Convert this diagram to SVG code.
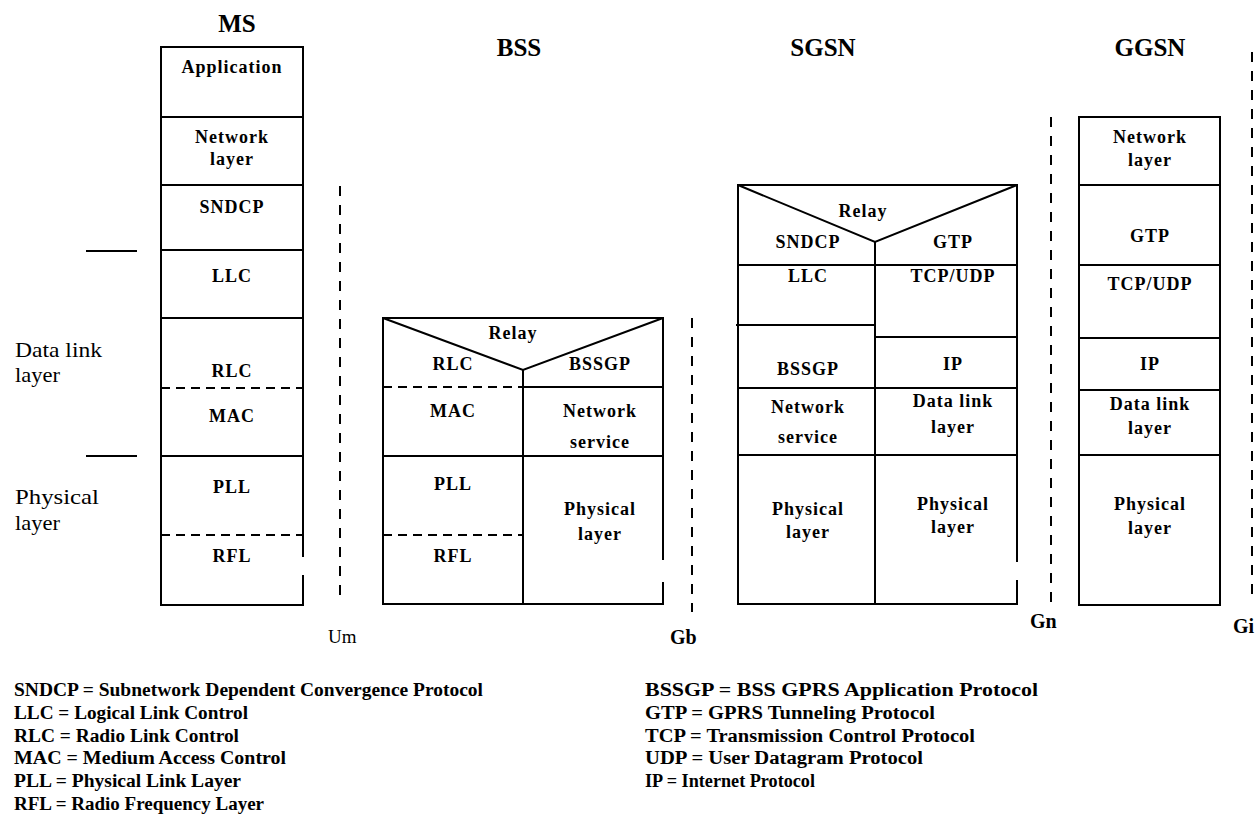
<svg xmlns="http://www.w3.org/2000/svg" width="1260" height="836" viewBox="0 0 1260 836">
<style>
  .ln { fill: none; stroke: #000; stroke-width: 2; }
  .dl { fill: none; stroke: #000; stroke-width: 2; stroke-dasharray: 9 6; }
  .if { fill: none; stroke: #000; stroke-width: 2; stroke-dasharray: 10 9; }
  .lbl { font-family: "Liberation Serif", "Times New Roman", serif; font-weight: bold; font-size: 18px; letter-spacing: 1px; text-anchor: middle; fill: #000; }
  .ttl { font-family: "Liberation Serif", "Times New Roman", serif; font-weight: bold; font-size: 25px; text-anchor: middle; fill: #000; }
  .side { font-family: "Liberation Serif", "Times New Roman", serif; font-size: 21px; fill: #000; }
  .ifl { font-family: "Liberation Serif", "Times New Roman", serif; font-weight: bold; font-size: 20px; fill: #000; }
  .ifr { font-family: "Liberation Serif", "Times New Roman", serif; font-size: 19px; fill: #000; }
  .leg { font-family: "Liberation Serif", "Times New Roman", serif; font-weight: bold; font-size: 18px; fill: #000; }
</style>
<rect x="0" y="0" width="1260" height="836" fill="#fff"/>

<!-- Titles -->
<g id="titles">
  <text class="ttl" x="237" y="32">MS</text>
  <text class="ttl" x="519" y="56">BSS</text>
  <text class="ttl" x="823" y="56">SGSN</text>
  <text class="ttl" x="1150" y="56">GGSN</text>
</g>

<!-- Side layer labels -->
<g id="side-labels">
  <line class="ln" x1="86" y1="251" x2="137" y2="251"/>
  <line class="ln" x1="86" y1="456" x2="137" y2="456"/>
  <text class="side" x="15" y="357" textLength="87" lengthAdjust="spacingAndGlyphs">Data link</text>
  <text class="side" x="15" y="382" textLength="45" lengthAdjust="spacingAndGlyphs">layer</text>
  <text class="side" x="15" y="504" textLength="84" lengthAdjust="spacingAndGlyphs">Physical</text>
  <text class="side" x="15" y="530" textLength="45" lengthAdjust="spacingAndGlyphs">layer</text>
</g>

<!-- MS stack -->
<g id="ms">
  <path class="ln" d="M303,557 V47 H161 V605 H303 V575"/>
  <line class="ln" x1="161" y1="117" x2="303" y2="117"/>
  <line class="ln" x1="161" y1="185" x2="303" y2="185"/>
  <line class="ln" x1="161" y1="250" x2="303" y2="250"/>
  <line class="ln" x1="161" y1="318" x2="303" y2="318"/>
  <line class="dl" x1="161" y1="388" x2="303" y2="388"/>
  <line class="ln" x1="161" y1="456" x2="303" y2="456"/>
  <line class="dl" x1="161" y1="535" x2="303" y2="535"/>
  <text class="lbl" x="232" y="73">Application</text>
  <text class="lbl" x="232" y="143">Network</text>
  <text class="lbl" x="232" y="165">layer</text>
  <text class="lbl" x="232" y="213">SNDCP</text>
  <text class="lbl" x="232" y="282">LLC</text>
  <text class="lbl" x="232" y="377">RLC</text>
  <text class="lbl" x="232" y="422">MAC</text>
  <text class="lbl" x="232" y="493">PLL</text>
  <text class="lbl" x="232" y="562">RFL</text>
</g>

<!-- BSS stack -->
<g id="bss">
  <path class="ln" d="M663,560 V318 H383 V604 H663 V582"/>
  <polyline class="ln" points="383,318 523,370 663,318"/>
  <line class="ln" x1="523" y1="370" x2="523" y2="604"/>
  <line class="dl" x1="383" y1="387" x2="523" y2="387"/>
  <line class="ln" x1="523" y1="387" x2="663" y2="387"/>
  <line class="ln" x1="383" y1="456" x2="663" y2="456"/>
  <line class="dl" x1="383" y1="535" x2="523" y2="535"/>
  <text class="lbl" x="513" y="339">Relay</text>
  <text class="lbl" x="453" y="370">RLC</text>
  <text class="lbl" x="600" y="370">BSSGP</text>
  <text class="lbl" x="453" y="417">MAC</text>
  <text class="lbl" x="600" y="417">Network</text>
  <text class="lbl" x="600" y="448">service</text>
  <text class="lbl" x="453" y="490">PLL</text>
  <text class="lbl" x="600" y="515">Physical</text>
  <text class="lbl" x="600" y="540">layer</text>
  <text class="lbl" x="453" y="562">RFL</text>
</g>

<!-- SGSN stack -->
<g id="sgsn">
  <path class="ln" d="M1017,562 V185 H738 V604 H1017 V580"/>
  <polyline class="ln" points="738,185 875,242 1017,185"/>
  <line class="ln" x1="875" y1="242" x2="875" y2="604"/>
  <line class="ln" x1="738" y1="265" x2="1017" y2="265"/>
  <line class="ln" x1="736" y1="325" x2="875" y2="325"/>
  <line class="ln" x1="875" y1="337" x2="1017" y2="337"/>
  <line class="ln" x1="738" y1="388" x2="1017" y2="388"/>
  <line class="ln" x1="738" y1="455" x2="1017" y2="455"/>
  <text class="lbl" x="863" y="217">Relay</text>
  <text class="lbl" x="808" y="248">SNDCP</text>
  <text class="lbl" x="953" y="248">GTP</text>
  <text class="lbl" x="808" y="282">LLC</text>
  <text class="lbl" x="953" y="282">TCP/UDP</text>
  <text class="lbl" x="808" y="375">BSSGP</text>
  <text class="lbl" x="953" y="370">IP</text>
  <text class="lbl" x="808" y="413">Network</text>
  <text class="lbl" x="808" y="443">service</text>
  <text class="lbl" x="953" y="407">Data link</text>
  <text class="lbl" x="953" y="433">layer</text>
  <text class="lbl" x="808" y="515">Physical</text>
  <text class="lbl" x="808" y="538">layer</text>
  <text class="lbl" x="953" y="510">Physical</text>
  <text class="lbl" x="953" y="533">layer</text>
</g>

<!-- GGSN stack -->
<g id="ggsn">
  <rect class="ln" x="1079" y="117" width="141" height="488"/>
  <line class="ln" x1="1079" y1="185" x2="1220" y2="185"/>
  <line class="ln" x1="1079" y1="265" x2="1220" y2="265"/>
  <line class="ln" x1="1079" y1="338" x2="1220" y2="338"/>
  <line class="ln" x1="1079" y1="390" x2="1220" y2="390"/>
  <line class="ln" x1="1079" y1="455" x2="1220" y2="455"/>
  <text class="lbl" x="1150" y="143">Network</text>
  <text class="lbl" x="1150" y="166">layer</text>
  <text class="lbl" x="1150" y="242">GTP</text>
  <text class="lbl" x="1150" y="290">TCP/UDP</text>
  <text class="lbl" x="1150" y="370">IP</text>
  <text class="lbl" x="1150" y="410">Data link</text>
  <text class="lbl" x="1150" y="434">layer</text>
  <text class="lbl" x="1150" y="510">Physical</text>
  <text class="lbl" x="1150" y="534">layer</text>
</g>

<!-- Interfaces (dashed reference lines) -->
<g id="connectors">
  <line class="if" x1="340" y1="186" x2="340" y2="597"/>
  <line class="if" x1="692" y1="318" x2="692" y2="612"/>
  <line class="if" x1="1051" y1="117" x2="1051" y2="603"/>
  <line class="if" x1="1252" y1="52" x2="1252" y2="600"/>
</g>
<g id="interface-labels">
  <text class="ifr" x="328" y="643">Um</text>
  <text class="ifl" x="670" y="644">Gb</text>
  <text class="ifl" x="1030" y="628">Gn</text>
  <text class="ifl" x="1233" y="633">Gi</text>
</g>

<!-- Legend -->
<g id="legend">
  <text class="leg" x="14" y="696" textLength="469" lengthAdjust="spacingAndGlyphs">SNDCP = Subnetwork Dependent Convergence Protocol</text>
  <text class="leg" x="14" y="719" textLength="234" lengthAdjust="spacingAndGlyphs">LLC = Logical Link Control</text>
  <text class="leg" x="14" y="742" textLength="225" lengthAdjust="spacingAndGlyphs">RLC = Radio Link Control</text>
  <text class="leg" x="14" y="764" textLength="272" lengthAdjust="spacingAndGlyphs">MAC = Medium Access Control</text>
  <text class="leg" x="14" y="787" textLength="227" lengthAdjust="spacingAndGlyphs">PLL = Physical Link Layer</text>
  <text class="leg" x="14" y="810" textLength="250" lengthAdjust="spacingAndGlyphs">RFL = Radio Frequency Layer</text>
  <text class="leg" x="645" y="696" textLength="393" lengthAdjust="spacingAndGlyphs">BSSGP = BSS GPRS Application Protocol</text>
  <text class="leg" x="645" y="719" textLength="290" lengthAdjust="spacingAndGlyphs">GTP = GPRS Tunneling Protocol</text>
  <text class="leg" x="645" y="742" textLength="330" lengthAdjust="spacingAndGlyphs">TCP = Transmission Control Protocol</text>
  <text class="leg" x="645" y="764" textLength="278" lengthAdjust="spacingAndGlyphs">UDP = User Datagram Protocol</text>
  <text class="leg" x="645" y="787" textLength="170" lengthAdjust="spacingAndGlyphs">IP = Internet Protocol</text>
</g>
</svg>
